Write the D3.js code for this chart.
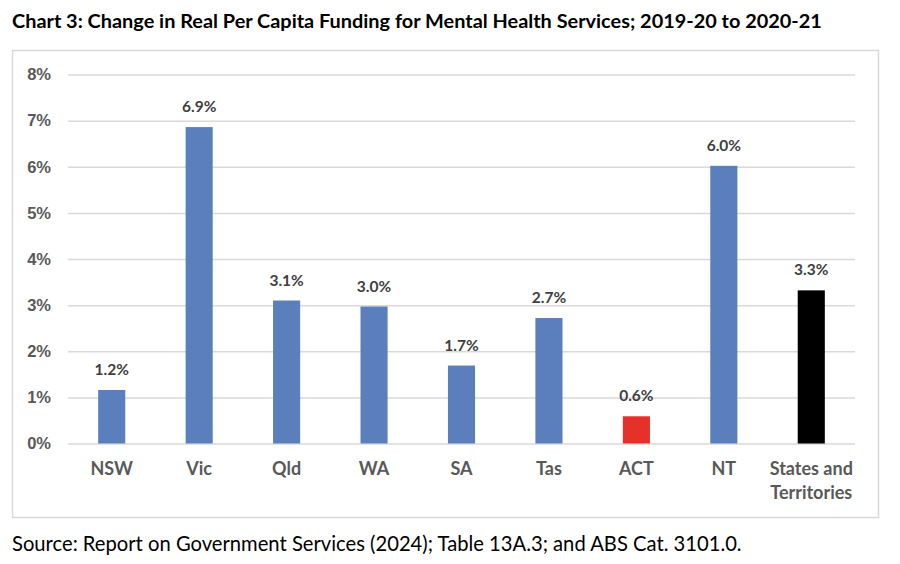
<!DOCTYPE html>
<html lang="en">
<head>
    <meta charset="UTF-8">
    <title>Chart 3</title>
    <script src="https://d3js.org/d3.v7.min.js"></script>
    <style>
        body {
            margin: 0;
            background: #fff;
            font-family: Lato, "Open Sans", sans-serif;
        }
        .title {
            font-size: 19.9px;
            font-weight: bold;
            fill: #000;
        }
        .source {
            font-size: 20.2px;
            fill: #000;
        }
        .tick text {
            font-size: 16.5px;
            font-weight: bold;
            fill: #595959;
        }
        .cat-label {
            font-size: 18px;
            font-weight: bold;
            fill: #595959;
        }
        .bar-label {
            font-size: 15.5px;
            font-weight: bold;
            fill: #404040;
        }
    </style>
</head>
<body>
    <div id="chart"></div>
    <script>
        const categories = ["NSW", "Vic", "Qld", "WA", "SA", "Tas", "ACT", "NT", "States and Territories"];
        const values = [1.16, 6.86, 3.1, 2.97, 1.69, 2.72, 0.59, 6.02, 3.32];
        const barColors = ["#5B7FBC", "#5B7FBC", "#5B7FBC", "#5B7FBC", "#5B7FBC", "#5B7FBC", "#E4322A", "#5B7FBC", "#000000"];
        const yTicks = [0, 1, 2, 3, 4, 5, 6, 7, 8];

        const width = 900, height = 564;
        const plot = { left: 68, right: 855, top: 74.5, bottom: 443.5 };

        const svg = d3.select("#chart").append("svg")
            .attr("width", width)
            .attr("height", height);

        svg.append("text")
            .attr("class", "title")
            .attr("x", 12)
            .attr("y", 28)
            .text("Chart 3: Change in Real Per Capita Funding for Mental Health Services; 2019-20 to 2020-21");

        // chart frame
        svg.append("rect")
            .attr("x", 12.5)
            .attr("y", 50.5)
            .attr("width", 866)
            .attr("height", 467)
            .attr("fill", "none")
            .attr("stroke", "#d9d9d9")
            .attr("stroke-width", 1.5);

        const x = d3.scaleBand()
            .domain(categories)
            .range([plot.left, plot.right])
            .paddingInner(0.69)
            .paddingOuter(0.345);

        const y = d3.scaleLinear()
            .domain([0, 8])
            .range([plot.bottom, plot.top]);

        const yAxis = svg.append("g")
            .attr("transform", `translate(${plot.left},0)`)
            .call(d3.axisLeft(y)
                .tickValues(yTicks)
                .tickSize(-(plot.right - plot.left))
                .tickPadding(17)
                .tickFormat(d => d + "%"));

        yAxis.select(".domain").remove();
        yAxis.selectAll(".tick line")
            .attr("stroke", "#d9d9d9")
            .attr("stroke-width", 1.5);

        const data = categories.map((c, i) => ({ cat: c, value: values[i], color: barColors[i] }));

        svg.selectAll("rect.bar")
            .data(data)
            .enter().append("rect")
            .attr("class", "bar")
            .attr("x", d => x(d.cat))
            .attr("width", x.bandwidth())
            .attr("y", d => y(d.value))
            .attr("height", d => y(0) - y(d.value))
            .attr("fill", d => d.color);

        svg.selectAll("text.bar-label")
            .data(data)
            .enter().append("text")
            .attr("class", "bar-label")
            .attr("x", d => x(d.cat) + x.bandwidth() / 2)
            .attr("y", d => y(d.value) - 15)
            .attr("text-anchor", "middle")
            .text(d => d3.format(".1f")(d.value) + "%");

        // category labels, wrapped on two lines for the last one
        const catLabels = svg.selectAll("text.cat-label")
            .data(categories)
            .enter().append("text")
            .attr("class", "cat-label")
            .attr("text-anchor", "middle")
            .attr("x", d => x(d) + x.bandwidth() / 2)
            .attr("y", 475);

        catLabels.each(function(d) {
            const t = d3.select(this);
            const lines = d === "States and Territories" ? ["States and", "Territories"] : [d];
            lines.forEach((line, i) => {
                t.append("tspan")
                    .attr("x", x(d) + x.bandwidth() / 2)
                    .attr("dy", i === 0 ? 0 : 24)
                    .text(line);
            });
        });

        svg.append("text")
            .attr("class", "source")
            .attr("x", 12)
            .attr("y", 551)
            .text("Source: Report on Government Services (2024); Table 13A.3; and ABS Cat. 3101.0.");
    </script>
</body>
</html>
